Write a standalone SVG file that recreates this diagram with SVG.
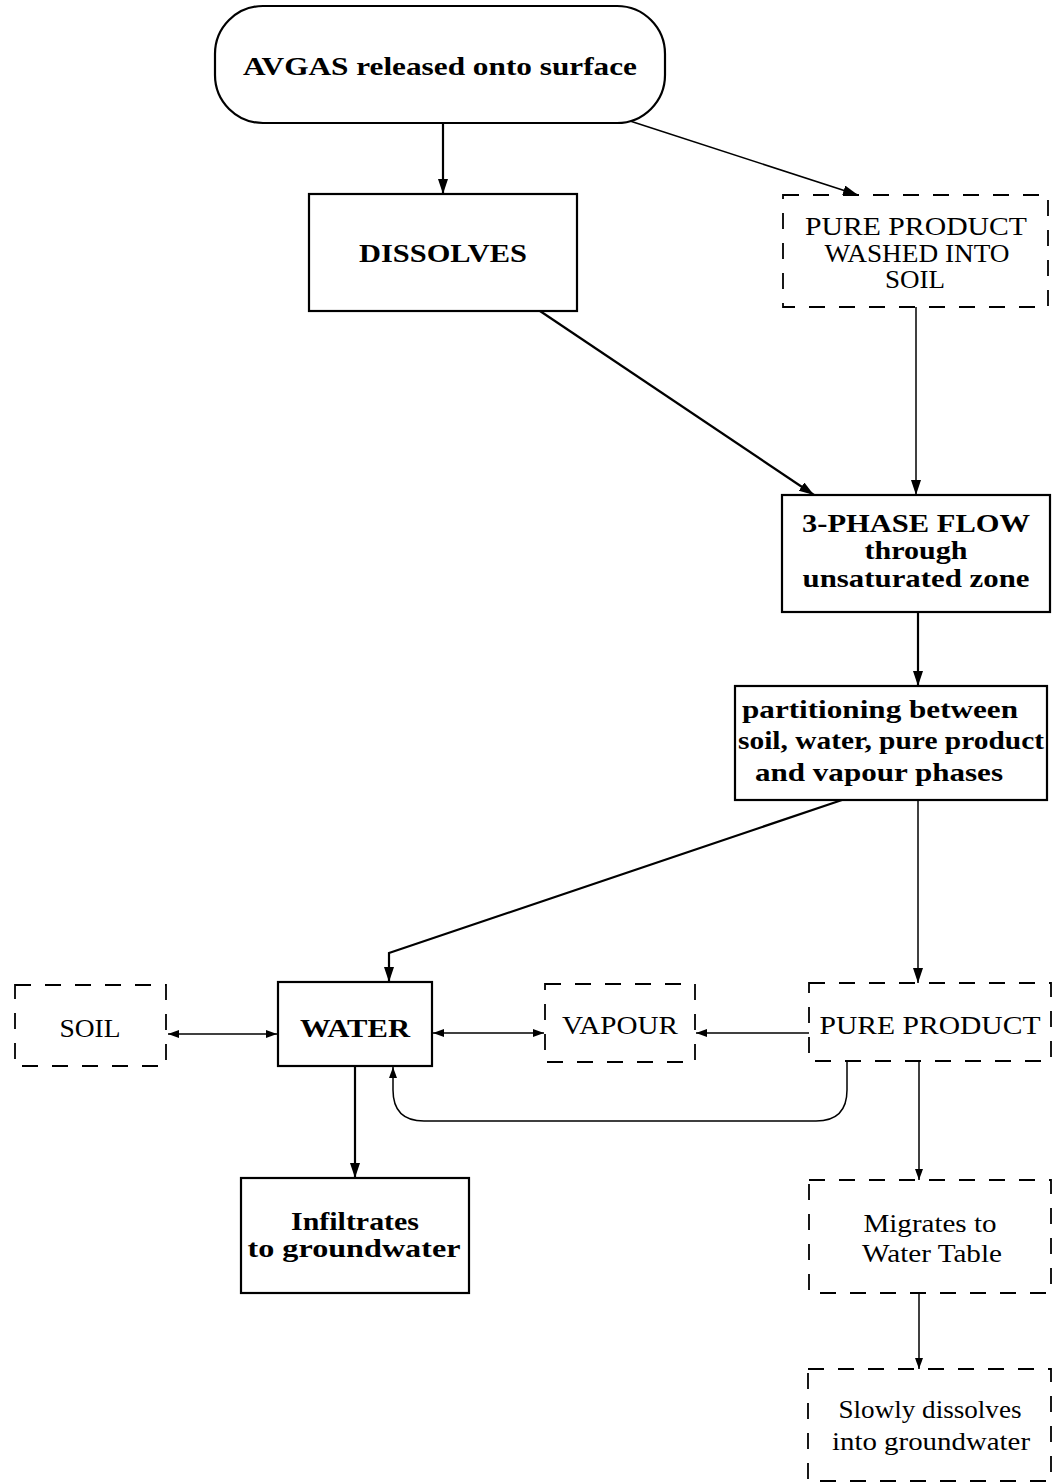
<svg xmlns="http://www.w3.org/2000/svg" width="1053" height="1483" viewBox="0 0 1053 1483">
<style>
  .solid { fill: #fff; stroke: #000; stroke-width: 2.2; }
  .dash { fill: #fff; stroke: #000; stroke-width: 1.8; stroke-dasharray: 16 14; }
  .b { font-family: "Liberation Serif", "DejaVu Serif", serif; font-weight: bold; font-size: 25px; fill: #000; text-anchor: middle; }
  .r { font-family: "Liberation Serif", "DejaVu Serif", serif; font-size: 25px; fill: #000; text-anchor: middle; }
  .thick { fill: none; stroke: #000; stroke-width: 2.2; }
  .thin { fill: none; stroke: #000; stroke-width: 1.5; }
</style>
<defs>
  <marker id="big" markerUnits="userSpaceOnUse" markerWidth="16" markerHeight="12" refX="15" refY="5" orient="auto-start-reverse">
    <path d="M0,0 L15,5 L0,10 Z" fill="#000"/>
  </marker>
  <marker id="small" markerUnits="userSpaceOnUse" markerWidth="12" markerHeight="10" refX="11" refY="4" orient="auto-start-reverse">
    <path d="M0,0 L11,4 L0,8 Z" fill="#000"/>
  </marker>
</defs>

<g id="connectors">
  <line class="thick" x1="443" y1="123" x2="443" y2="194" marker-end="url(#big)"/>
  <line class="thin" x1="630" y1="121" x2="858" y2="195" marker-end="url(#big)"/>
  <line class="thick" x1="540" y1="311" x2="814" y2="495" marker-end="url(#big)"/>
  <line class="thin" x1="916" y1="307" x2="916" y2="495" marker-end="url(#big)"/>
  <line class="thick" x1="918" y1="612" x2="918" y2="686" marker-end="url(#big)"/>
  <polyline class="thick" points="842,800 389,953 389,982" marker-end="url(#big)"/>
  <line class="thin" x1="918" y1="800" x2="918" y2="983" marker-end="url(#big)"/>
  <line class="thin" x1="168" y1="1034" x2="277" y2="1034" marker-start="url(#small)" marker-end="url(#small)"/>
  <line class="thin" x1="433" y1="1033" x2="544" y2="1033" marker-start="url(#small)" marker-end="url(#small)"/>
  <line class="thin" x1="809" y1="1033" x2="696" y2="1033" marker-end="url(#small)"/>
  <path class="thin" d="M847,1061 L847,1090 Q847,1121 816,1121 L424,1121 Q393,1121 393,1090 L393,1067" marker-end="url(#small)"/>
  <line class="thick" x1="355" y1="1066" x2="355" y2="1178" marker-end="url(#big)"/>
  <line class="thin" x1="919" y1="1061" x2="919" y2="1180" marker-end="url(#small)"/>
  <line class="thin" x1="919" y1="1293" x2="919" y2="1369" marker-end="url(#small)"/>
</g>

<g id="n-avgas">
  <rect class="solid" x="215" y="6" width="450" height="117" rx="48" ry="48"/>
  <text class="b" x="440" y="75" textLength="394" lengthAdjust="spacingAndGlyphs">AVGAS released onto surface</text>
</g>
<g id="n-dissolves">
  <rect class="solid" x="309" y="194" width="268" height="117"/>
  <text class="b" x="443" y="262" textLength="168" lengthAdjust="spacingAndGlyphs">DISSOLVES</text>
</g>
<g id="n-pure-washed">
  <rect class="dash" x="783" y="195" width="265" height="112"/>
  <text class="r" x="916" y="235" textLength="222" lengthAdjust="spacingAndGlyphs">PURE PRODUCT</text>
  <text class="r" x="917" y="262" textLength="185" lengthAdjust="spacingAndGlyphs">WASHED INTO</text>
  <text class="r" x="915" y="288" textLength="60" lengthAdjust="spacingAndGlyphs">SOIL</text>
</g>
<g id="n-3phase">
  <rect class="solid" x="782" y="495" width="268" height="117"/>
  <text class="b" x="916" y="532" textLength="228" lengthAdjust="spacingAndGlyphs">3-PHASE FLOW</text>
  <text class="b" x="916" y="559" textLength="103" lengthAdjust="spacingAndGlyphs">through</text>
  <text class="b" x="916" y="587" textLength="227" lengthAdjust="spacingAndGlyphs">unsaturated zone</text>
</g>
<g id="n-partition">
  <rect class="solid" x="735" y="686" width="312" height="114"/>
  <text class="b" x="880" y="718" textLength="276" lengthAdjust="spacingAndGlyphs">partitioning between</text>
  <text class="b" x="891" y="749" textLength="306" lengthAdjust="spacingAndGlyphs">soil, water, pure product</text>
  <text class="b" x="879" y="781" textLength="248" lengthAdjust="spacingAndGlyphs">and vapour phases</text>
</g>
<g id="n-soil">
  <rect class="dash" x="15" y="985" width="151" height="81"/>
  <text class="r" x="90" y="1037" textLength="61" lengthAdjust="spacingAndGlyphs">SOIL</text>
</g>
<g id="n-water">
  <rect class="solid" x="278" y="982" width="154" height="84"/>
  <text class="b" x="355" y="1037" textLength="110" lengthAdjust="spacingAndGlyphs">WATER</text>
</g>
<g id="n-vapour">
  <rect class="dash" x="545" y="984" width="150" height="78"/>
  <text class="r" x="620" y="1034" textLength="116" lengthAdjust="spacingAndGlyphs">VAPOUR</text>
</g>
<g id="n-pure">
  <rect class="dash" x="809" y="983" width="242" height="78"/>
  <text class="r" x="930" y="1034" textLength="221" lengthAdjust="spacingAndGlyphs">PURE PRODUCT</text>
</g>
<g id="n-infiltrates">
  <rect class="solid" x="241" y="1178" width="228" height="115"/>
  <text class="b" x="355" y="1230" textLength="128" lengthAdjust="spacingAndGlyphs">Infiltrates</text>
  <text class="b" x="354" y="1257" textLength="213" lengthAdjust="spacingAndGlyphs">to groundwater</text>
</g>
<g id="n-migrates">
  <rect class="dash" x="809" y="1180" width="242" height="113"/>
  <text class="r" x="930" y="1232" textLength="133" lengthAdjust="spacingAndGlyphs">Migrates to</text>
  <text class="r" x="932" y="1262" textLength="140" lengthAdjust="spacingAndGlyphs">Water Table</text>
</g>
<g id="n-slowly">
  <rect class="dash" x="808" y="1369" width="243" height="112"/>
  <text class="r" x="930" y="1418" textLength="183" lengthAdjust="spacingAndGlyphs">Slowly dissolves</text>
  <text class="r" x="931" y="1450" textLength="198" lengthAdjust="spacingAndGlyphs">into groundwater</text>
</g>
</svg>
